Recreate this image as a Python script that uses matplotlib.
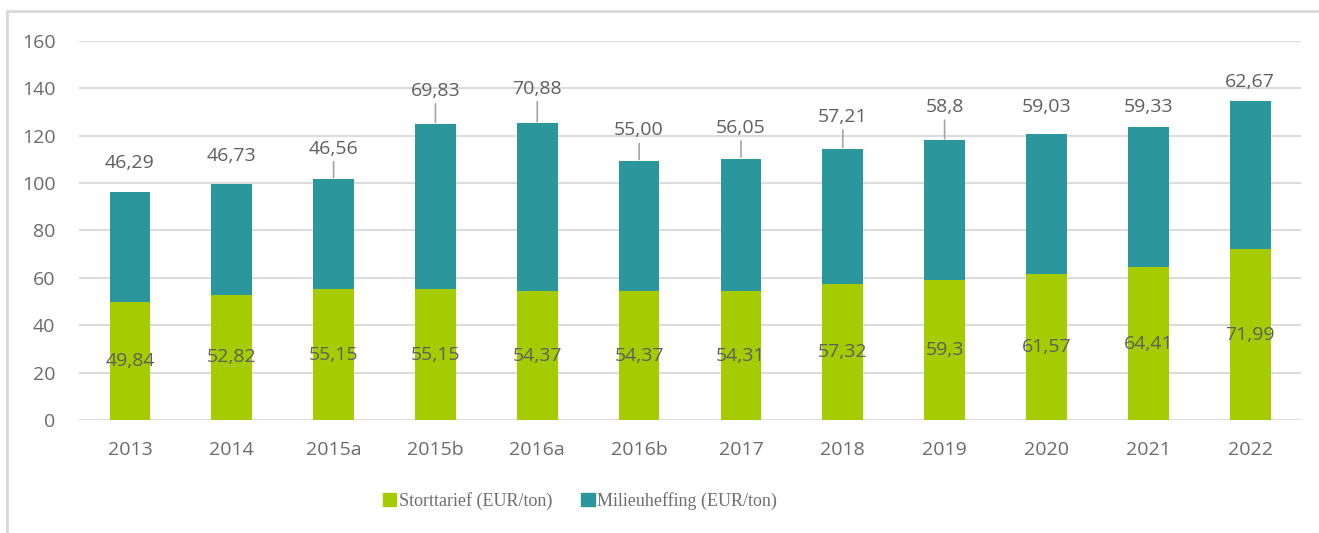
import matplotlib.pyplot as plt
import numpy as np
from matplotlib.lines import Line2D

# tarieven per jaar (EUR/ton)
jaren = ["2013", "2014", "2015a", "2015b", "2016a", "2016b",
         "2017", "2018", "2019", "2020", "2021", "2022"]
stort_txt = ["49,84", "52,82", "55,15", "55,15", "54,37", "54,37",
             "54,31", "57,32", "59,3", "61,57", "64,41", "71,99"]
heffing_txt = ["46,29", "46,73", "46,56", "69,83", "70,88", "55,00",
               "56,05", "57,21", "58,8", "59,03", "59,33", "62,67"]

storttarief = np.array([float(s.replace(",", ".")) for s in stort_txt])
milieuheffing = np.array([float(s.replace(",", ".")) for s in heffing_txt])

# label placement above the stacked bars (points) and which ones get a leader line
label_offset = [21, 20, 22, 24, 25, 22, 22, 23, 24, 20, 14, 14]
leader = [0, 0, 1, 1, 1, 1, 1, 1, 1, 0, 0, 0]

groen = "#A4CC00"
blauw = "#2B969B"
grijs = "#6B6B6B"

plt.rcParams["font.family"] = ["Open Sans", "DejaVu Sans"]

fig = plt.figure(figsize=(13.19, 5.33), dpi=100)
ax = fig.add_axes([0.0599, 0.2120, 0.9265, 0.7111])

x = np.arange(len(jaren))
ax.bar(x, storttarief, width=0.4, color=groen, zorder=3)
ax.bar(x, milieuheffing, width=0.4, bottom=storttarief, color=blauw, zorder=3)

for i in range(len(jaren)):
    ax.text(x[i], storttarief[i] / 2, stort_txt[i], ha="center", va="center",
            fontsize=14, color="#5F5F5F", zorder=4)
    top = storttarief[i] + milieuheffing[i]
    props = None
    if leader[i]:
        props = dict(arrowstyle="-", color="#A6A6A6", lw=1.2, shrinkA=1, shrinkB=1)
    ax.annotate(heffing_txt[i], xy=(x[i], top), xytext=(0, label_offset[i]),
                textcoords="offset points", ha="center", va="center",
                fontsize=14, color="#5F5F5F", arrowprops=props, zorder=4)

ax.set_xlim(-0.5, len(jaren) - 0.5)
ax.set_ylim(0, 160)
ax.set_yticks(range(0, 161, 20))
ax.set_xticks(x)
ax.set_xticklabels(jaren)
ax.grid(axis="y", color="#DCDCDC", lw=1.5, zorder=0)
ax.tick_params(axis="y", length=0, pad=17, labelsize=14, labelcolor=grijs)
ax.tick_params(axis="x", length=0, pad=15, labelsize=14, labelcolor=grijs)
for s in ax.spines.values():
    s.set_visible(False)

# rand rond de grafiek
fig.add_artist(Line2D([7 / 1319, 7 / 1319], [0, 1 - 11 / 533],
                      transform=fig.transFigure, color="#D9D9D9", lw=2))
fig.add_artist(Line2D([7 / 1319, 1], [1 - 11 / 533, 1 - 11 / 533],
                      transform=fig.transFigure, color="#D9D9D9", lw=2))

handles = [plt.Rectangle((0, 0), 1, 1, color=groen),
           plt.Rectangle((0, 0), 1, 1, color=blauw)]
fig.legend(handles, ["Storttarief (EUR/ton)", "Milieuheffing (EUR/ton)"],
           loc="center", bbox_to_anchor=(580 / 1319, 1 - 501 / 533), ncol=2,
           frameon=False, handlelength=0.75, handleheight=0.75, handletextpad=0.15,
           columnspacing=1.6,
           prop={"family": ["Liberation Serif", "DejaVu Serif"], "size": 13},
           labelcolor="#6E6E6E")

fig.savefig("out.png", dpi=100)
